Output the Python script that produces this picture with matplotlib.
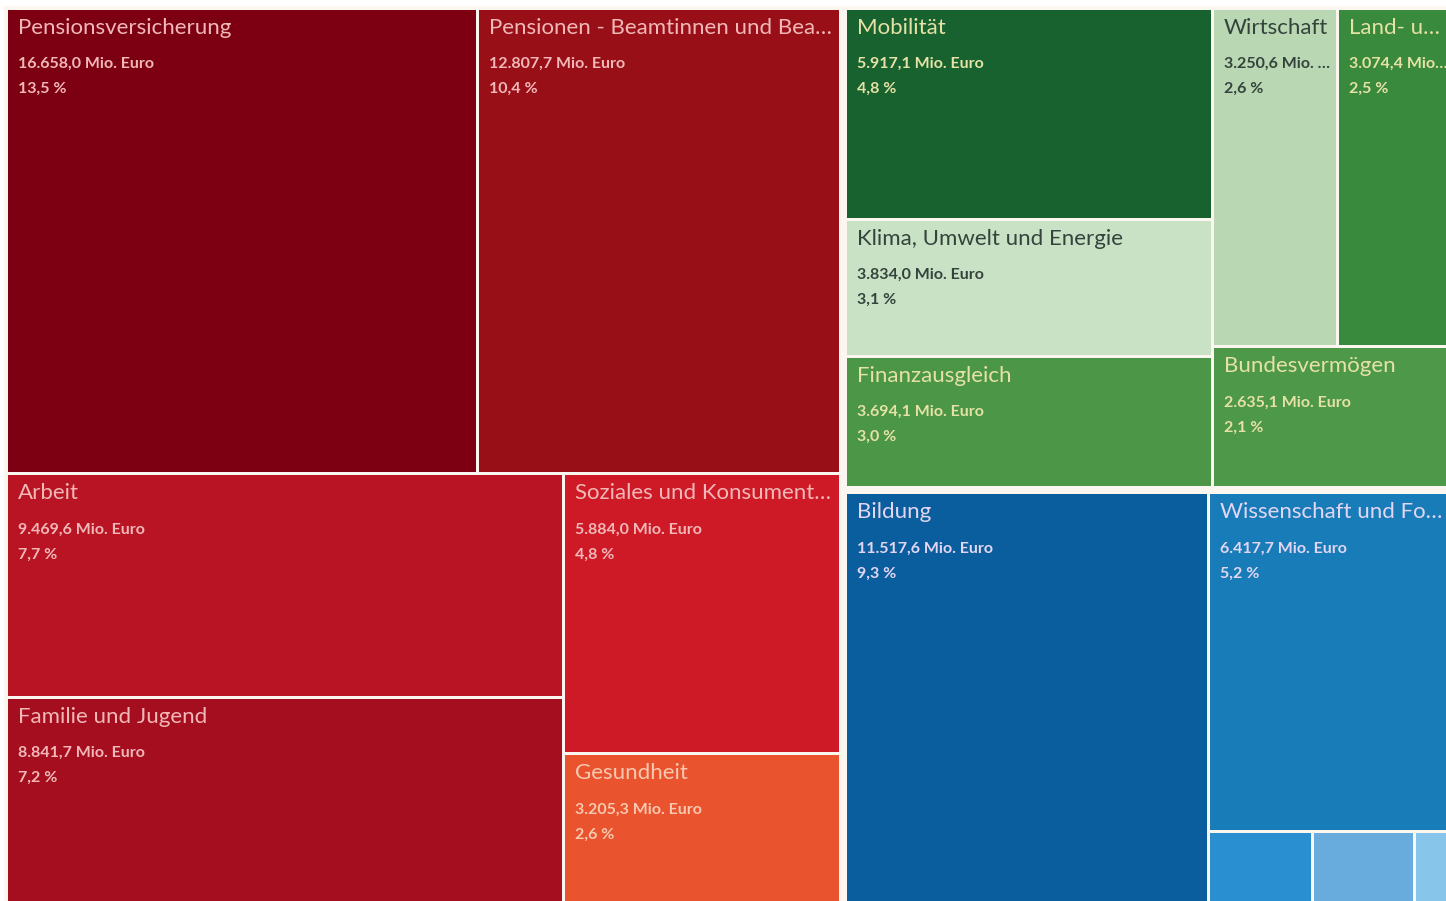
import matplotlib
matplotlib.use("Agg")
import matplotlib.pyplot as plt
from matplotlib.patches import Rectangle

# ---------------- data ----------------
names = [
    "Pensionsversicherung",
    "Pensionen - Beamtinnen und Beamte",
    "Arbeit",
    "Familie und Jugend",
    "Soziales und Konsumentenschutz",
    "Gesundheit",
    "Mobilität",
    "Klima, Umwelt und Energie",
    "Finanzausgleich",
    "Wirtschaft",
    "Land- und Forstwirtschaft, Regionen und Wasserwirtschaft",
    "Bundesvermögen",
    "Bildung",
    "Wissenschaft und Forschung",
    "",
    "",
    "",
]
values = [16658.0, 12807.7, 9469.6, 8841.7, 5884.0, 3205.3,
          5917.1, 3834.0, 3694.1, 3250.6, 3074.4, 2635.1,
          11517.6, 6417.7, 595.0, 590.0, 240.0]
shares = [13.5, 10.4, 7.7, 7.2, 4.8, 2.6,
          4.8, 3.1, 3.0, 2.6, 2.5, 2.1,
          9.3, 5.2, None, None, None]

# ---------------- styles ----------------
tile_colors = ["#7C0012", "#990F18", "#B81423", "#A50E1F", "#CD1A26", "#E9532D",
               "#17622E", "#C9E1C4", "#4B9647", "#B8D7B2", "#3A8A3D", "#4E984A",
               "#0B5E9D", "#187CB8", "#2A8FD0", "#68ABDD", "#88C5EA"]
text_colors = ["#F2B8B8", "#F2B8B8", "#F2B8B8", "#F2B8B8", "#F2B8B8", "#F8C8B0",
               "#E6E2A6", "#34443C", "#E6E2A6", "#34443C", "#E6E2A6", "#E6E2A6",
               "#E2D6F2", "#E2D6F2", "#E2D6F2", "#E2D6F2", "#E2D6F2"]

# layout structure (split direction, children = tile indices or sub-nodes)
red = ("v", [("h", [0, 1]), ("h", [("v", [2, 3]), ("v", [4, 5])])])
green = ("h", [("v", [6, 7, 8]), ("v", [("h", [9, 10]), 11])])
blue = ("h", [12, ("v", [13, ("h", [14, 15, 16])])])
root = ("h", [("G", red), ("v", [("G", green), ("G", blue)])])

FRAME = (4.0, 6.0, 1455.0, 903.0)
GROUP_INSET = 2.5
TILE_INSET = 1.5
BG = "#FBF6F0"


def node_sum(n):
    if isinstance(n, int):
        return values[n]
    if n[0] == "G":
        return node_sum(n[1])
    return sum(node_sum(c) for c in n[1])


rects = {}


def layout(n, x, y, w, h):
    if isinstance(n, int):
        rects[n] = (x + TILE_INSET, y + TILE_INSET, w - 2 * TILE_INSET, h - 2 * TILE_INSET)
        return
    if n[0] == "G":
        layout(n[1], x + GROUP_INSET, y + GROUP_INSET, w - 2 * GROUP_INSET, h - 2 * GROUP_INSET)
        return
    d, children = n
    tot = sum(node_sum(c) for c in children)
    pos = 0.0
    for c in children:
        f = node_sum(c) / tot
        if d == "h":
            layout(c, x + pos * w, y, f * w, h)
        else:
            layout(c, x, y + pos * h, w, f * h)
        pos += f


layout(root, *FRAME)


def fmt_num(v):
    s = f"{v:,.1f}"
    return s.replace(",", "X").replace(".", ",").replace("X", ".")


fig = plt.figure(figsize=(14.46, 9.01), dpi=100)
fig.patch.set_facecolor("white")
ax = fig.add_axes([0, 0, 1, 1])
ax.set_xlim(0, 1446)
ax.set_ylim(901, 0)
ax.axis("off")
ax.add_patch(Rectangle((FRAME[0], FRAME[1]), FRAME[2], FRAME[3], facecolor=BG, edgecolor="none", zorder=0))

renderer = fig.canvas.get_renderer()


def fit_text(x, y, s, maxw, **kw):
    t = ax.text(x, y, s, **kw)
    if t.get_window_extent(renderer).width <= maxw:
        return t
    base = s
    while len(base) > 1:
        base = base[:-1]
        t.set_text(base + "…")
        if t.get_window_extent(renderer).width <= maxw:
            return t
    return t


for i, (x, y, w, h) in rects.items():
    ax.add_patch(Rectangle((x, y), w, h, facecolor=tile_colors[i], edgecolor="none", zorder=1))
    if not names[i]:
        continue
    tx = x + 10
    maxw = w - 14
    c = text_colors[i]
    fit_text(tx, y + 18, names[i], maxw, fontsize=16, family="Lato", color=c,
             va="center", ha="left", zorder=3)
    fit_text(tx, y + 54, fmt_num(values[i]) + " Mio. Euro", maxw, fontsize=11.5,
             family="Lato", fontweight="bold", color=c, va="center", ha="left", zorder=3)
    if shares[i] is not None:
        fit_text(tx, y + 79, f"{shares[i]:.1f}".replace(".", ",") + " %", maxw,
                 fontsize=11.5, family="Lato", fontweight="bold", color=c,
                 va="center", ha="left", zorder=3)

fig.savefig("out.png", dpi=100, facecolor="white")
